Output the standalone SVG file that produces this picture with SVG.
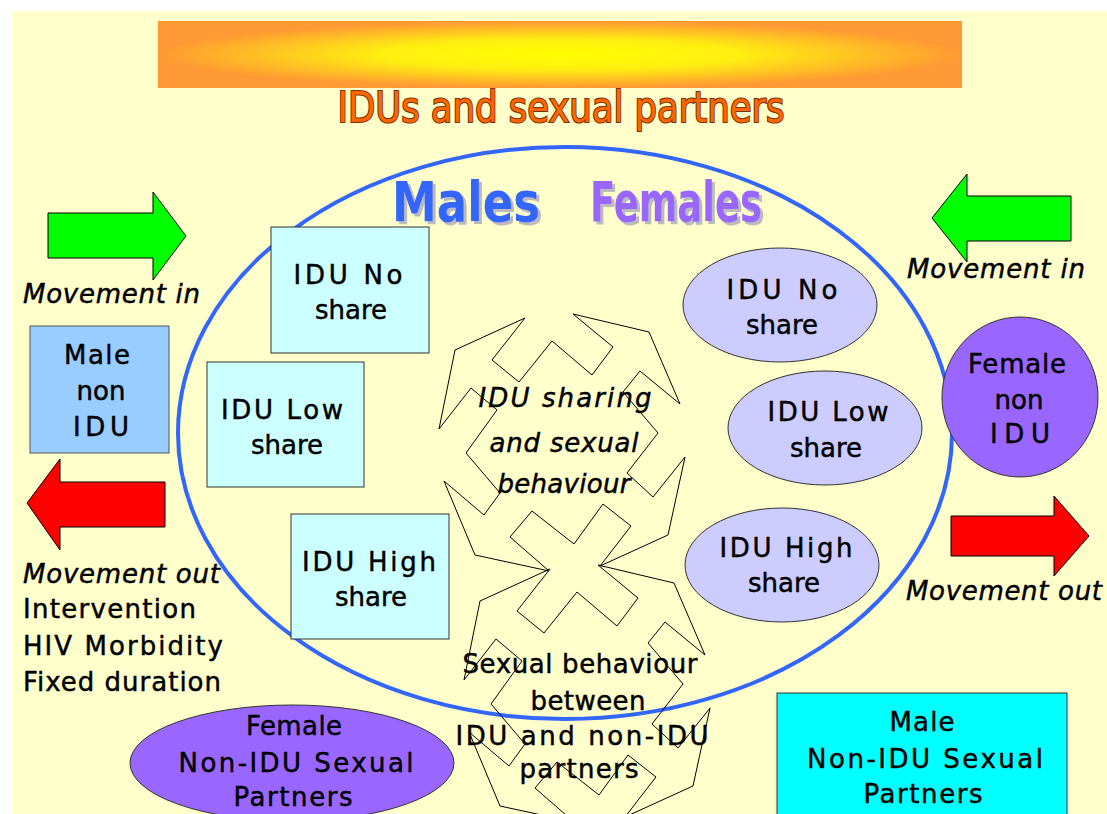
<svg xmlns="http://www.w3.org/2000/svg" xmlns:xlink="http://www.w3.org/1999/xlink" width="1107" height="814" viewBox="0 0 1107 814">
<defs>
<radialGradient id="ban" cx="0.5" cy="0.5" r="0.5">
<stop offset="0" stop-color="#FFFF00"/>
<stop offset="0.45" stop-color="#FFEE11"/>
<stop offset="1" stop-color="#FF9933"/>
</radialGradient>
<filter id="shadow" x="-10%" y="-10%" width="130%" height="140%">
<feOffset in="SourceAlpha" dx="3" dy="3" result="off"/>
<feFlood flood-color="#BBBBBB"/>
<feComposite in2="off" operator="in" result="sh"/>
<feMerge><feMergeNode in="sh"/><feMergeNode in="SourceGraphic"/></feMerge>
</filter>
<polygon id="star" points="525,318 492,360 519,382 552,341 592,375 613,347 573,314 649,332 680,404 640,371 623,392 658,433 627,473 653,497 685,457 668,535 600,566 631,526 603,504 574,544 532,511 510,537 549,571 475,555 444,481 484,515 500,493 466,453 497,410 471,388 439,429 455,350"/>
</defs>
<style>
.t{font-family:"DejaVu Sans","Liberation Sans",sans-serif;font-size:26px;fill:#000;stroke:#000;stroke-width:0.45}
.i{font-style:italic}
.m{text-anchor:middle}
.box{stroke:#333;stroke-width:1}
.arr{stroke:#000;stroke-width:1}
.star{fill:none;stroke:#000;stroke-width:1}
.big{font-family:"DejaVu Sans","Liberation Sans",sans-serif;font-weight:bold;font-size:56px;filter:url(#shadow)}
</style>
<rect x="0" y="0" width="1107" height="814" fill="#FFFFFF"/>
<rect x="12" y="11" width="1095" height="803" fill="#FFFFCC"/>

<g id="title">
<rect x="158" y="21" width="804" height="67" fill="url(#ban)"/>
<text x="561" y="122" text-anchor="middle" textLength="447" lengthAdjust="spacingAndGlyphs" font-family="DejaVu Sans, sans-serif" font-size="42" fill="#FF6600" stroke="#7A3300" stroke-width="2.2" paint-order="stroke">IDUs and sexual partners</text>
</g>

<g id="population">
<ellipse cx="565" cy="433" rx="387" ry="286" fill="none" stroke="#3366FF" stroke-width="4"/>
<text class="big" x="466" y="221" text-anchor="middle" textLength="148" lengthAdjust="spacingAndGlyphs" fill="#3366FF">Males</text>
<text class="big" x="676" y="221" text-anchor="middle" textLength="172" lengthAdjust="spacingAndGlyphs" fill="#9966FF">Females</text>
</g>

<g id="connectors">
<use xlink:href="#star" class="star"/>
<use xlink:href="#star" class="star" transform="translate(25,251)"/>
</g>

<g id="left-in">
<polygon class="arr" fill="#00FF00" points="48,213 153,213 153,192 186,236 153,280 153,258 48,258"/>
<text class="t i" x="23" y="303" textLength="177">Movement in</text>
</g>
<g id="male-non-idu">
<rect x="30" y="326" width="139" height="127" fill="#99CCFF" stroke="#555" stroke-width="1"/>
<text class="t m" x="97" y="364" textLength="66">Male</text>
<text class="t m" x="101" y="400">non</text>
<text class="t m" x="101" y="436" textLength="56">IDU</text>
</g>
<g id="left-out">
<polygon class="arr" fill="#FF0000" points="165,482 60,482 60,459 27,503 60,550 60,527 165,527"/>
<text class="t i" x="23" y="583" textLength="197">Movement out</text>
<text class="t" x="23" y="618" textLength="173">Intervention</text>
<text class="t" x="23" y="655" textLength="200">HIV Morbidity</text>
<text class="t" x="23" y="691" textLength="198">Fixed duration</text>
</g>

<g id="right-in">
<polygon class="arr" fill="#00FF00" points="1071,196 967,196 967,174 932,218 967,262 967,241 1071,241"/>
<text class="t i" x="907" y="278" textLength="178">Movement in</text>
</g>
<g id="female-non-idu">
<ellipse cx="1020" cy="397" rx="78" ry="80" fill="#9966FF" stroke="#333" stroke-width="1"/>
<text class="t m" x="1017" y="373" textLength="98">Female</text>
<text class="t m" x="1019" y="409">non</text>
<text class="t m" x="1020" y="443" textLength="60">IDU</text>
</g>
<g id="right-out">
<polygon class="arr" fill="#FF0000" points="951,516 1054,516 1054,496 1089,536 1054,576 1054,556 951,556"/>
<text class="t i" x="906" y="600" textLength="196">Movement out</text>
</g>

<g id="m-no">
<rect class="box" x="271" y="227" width="158" height="126" fill="#CCFFFF"/>
<text class="t m" x="348" y="284" textLength="109">IDU No</text>
<text class="t m" x="351" y="319">share</text>
</g>
<g id="m-low">
<rect class="box" x="207" y="362" width="157" height="125" fill="#CCFFFF"/>
<text class="t m" x="282" y="419" textLength="122">IDU Low</text>
<text class="t m" x="287" y="454">share</text>
</g>
<g id="m-high">
<rect class="box" x="291" y="514" width="158" height="125" fill="#CCFFFF"/>
<text class="t m" x="369" y="571" textLength="134">IDU High</text>
<text class="t m" x="371" y="606">share</text>
</g>

<g id="f-no">
<ellipse class="box" cx="780" cy="305" rx="97" ry="57" fill="#CCCCFF"/>
<text class="t m" x="782" y="299" textLength="111">IDU No</text>
<text class="t m" x="782" y="334">share</text>
</g>
<g id="f-low">
<ellipse class="box" cx="825" cy="428" rx="97" ry="57" fill="#CCCCFF"/>
<text class="t m" x="828" y="421" textLength="121">IDU Low</text>
<text class="t m" x="826" y="457">share</text>
</g>
<g id="f-high">
<ellipse class="box" cx="782" cy="565" rx="97" ry="57" fill="#CCCCFF"/>
<text class="t m" x="786" y="557" textLength="133">IDU High</text>
<text class="t m" x="784" y="592">share</text>
</g>

<g id="sharing">
<text class="t i m" x="565" y="407" textLength="173">IDU sharing</text>
<text class="t i m" x="564" y="452" textLength="149">and sexual</text>
<text class="t i m" x="564" y="493" textLength="133">behaviour</text>
</g>
<g id="between">
<text class="t m" x="580" y="673" textLength="235">Sexual behaviour</text>
<text class="t m" x="588" y="710" textLength="115">between</text>
<text class="t m" x="582" y="745" textLength="253">IDU and non-IDU</text>
<text class="t m" x="579" y="778" textLength="119">partners</text>
</g>

<g id="female-partners">
<ellipse cx="292" cy="763" rx="162" ry="58" fill="#9966FF" stroke="#333" stroke-width="1"/>
<text class="t m" x="294" y="735" textLength="96">Female</text>
<text class="t m" x="296" y="772" textLength="235">Non-IDU Sexual</text>
<text class="t m" x="293" y="806" textLength="119">Partners</text>
</g>
<g id="male-partners">
<rect class="box" x="777" y="693" width="290" height="130" fill="#00FFFF"/>
<text class="t m" x="922" y="731" textLength="65">Male</text>
<text class="t m" x="925" y="768" textLength="236">Non-IDU Sexual</text>
<text class="t m" x="923" y="803" textLength="119">Partners</text>
</g>
</svg>
